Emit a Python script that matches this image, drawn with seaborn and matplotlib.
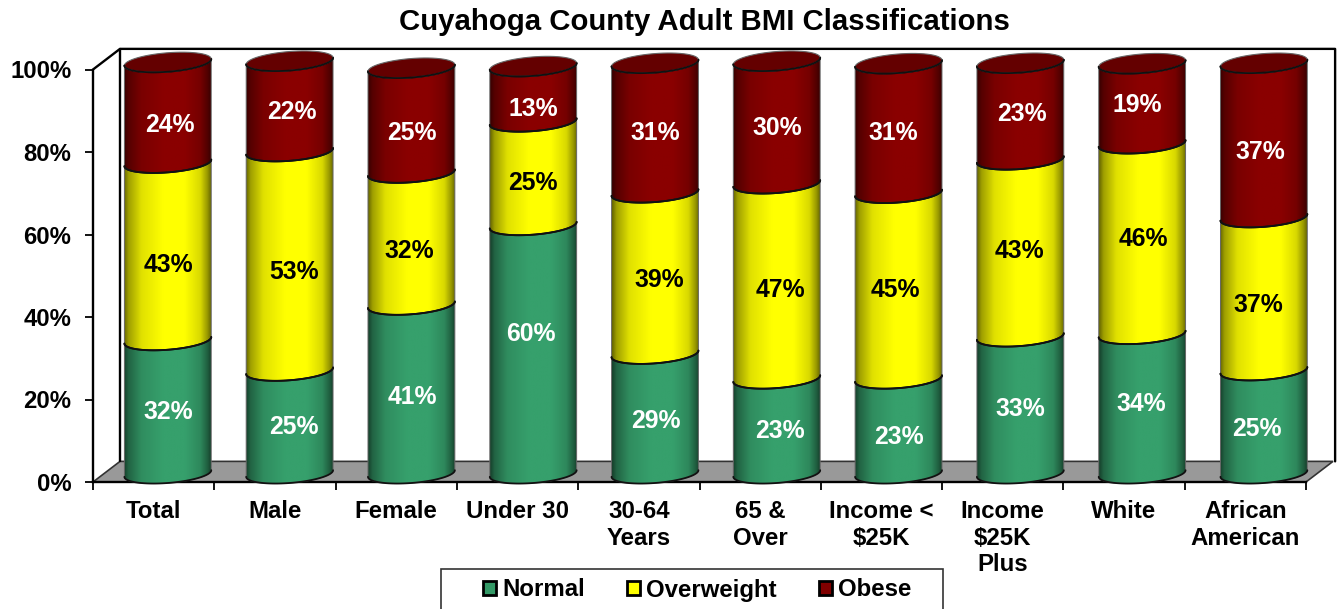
import numpy as np
import pandas as pd
import matplotlib
matplotlib.use("Agg")
import matplotlib.pyplot as plt
from matplotlib.colors import to_rgb
from matplotlib.patches import Patch, Polygon, Rectangle
import seaborn as sns

sns.set_theme(style="white")
plt.rcParams['font.family'] = ['Liberation Sans']
plt.rcParams['font.weight'] = 'bold'

# data
groups = ['Total', 'Male', 'Female', 'Under 30', '30-64\nYears', '65 &\nOver',
          'Income <\n$25K', 'Income\n$25K\nPlus', 'White', 'African\nAmerican']
normal = [32.3, 24.9, 40.9, 60.2, 29.0, 23.0, 23.0, 33.2, 33.8, 25.0]
overweight = [43.0, 53.2, 32.0, 25.1, 39.1, 47.3, 45.0, 42.9, 46.2, 37.1]
obese = [24.4, 21.9, 25.4, 13.4, 31.4, 29.7, 31.4, 23.4, 19.4, 37.4]
series_names = ['Normal', 'Overweight', 'Obese']
series_colors = ['#36a06c', '#ffff00', '#8a0000']
label_colors = ['white', 'black', 'white']
yticks = [0, 20, 40, 60, 80, 100]

# where the value labels sit in the reference, in pixels
label_px_x = [[168, 294, 412, 531, 656, 780, 899, 1020, 1141, 1257],
              [168, 294, 409, 533, 659, 780, 895, 1019, 1143, 1258],
              [170, 292, 412, 533, 655, 777, 893, 1022, 1137, 1260]]
label_px_y = [[412, 427, 397, 334, 421, 431, 437, 409, 404, 429],
              [265, 272, 251, 183, 280, 290, 290, 251, 239, 305],
              [125, 112, 133, 109, 133, 128, 133, 114, 105, 152]]

fig = plt.figure(figsize=(13.4, 6.09), dpi=100)
ax = fig.add_axes([93 / 1340, (609 - 482) / 609, 1213 / 1340, 412.5 / 609])

# fake 3d settings, in data units
depth_x, depth_y = 0.2226, 5.0
bar_dx, bar_dy = 0.117, 2.06
bar_spread = 0.004  # bars sit on a slightly wider spacing than the front ticks
bar_width = 0.716
cap_b, cap_k = 2.3, 0.8
shade = np.interp(np.linspace(0, 1, 200),
                  [0, 0.05, 0.2, 0.45, 0.7, 0.88, 0.96, 1],
                  [0.4, 0.62, 0.88, 1, 1, 0.85, 0.6, 0.42])


def arc(xc, y, start, stop):
    # part of the tilted ellipse around a bar at height y
    t = np.linspace(start, stop, 60)
    xs = xc + bar_width / 2 * np.cos(t)
    ys = y + cap_b * np.sin(t) + cap_k * np.cos(t)
    return np.column_stack([xs, ys])


def draw_segment(xc, y0, y1, color):
    # side of the cylinder between two heights, shaded left to right
    lower = arc(xc, y0, np.pi, 2 * np.pi)
    upper = arc(xc, y1, 2 * np.pi, np.pi)
    outline = np.vstack([lower, upper])
    rgb = np.array(to_rgb(color))
    img = (shade[:, None] * rgb)[None, :, :]
    im = ax.imshow(img, extent=(xc - bar_width / 2, xc + bar_width / 2, y0 - 6, y1 + 6),
                   aspect='auto', zorder=3, interpolation='bilinear')
    clip = Polygon(outline, transform=ax.transData)
    im.set_clip_path(clip)
    im.set_clip_box(fig.bbox)
    ax.add_patch(Polygon(outline, closed=True, fill=False, edgecolor='#666666',
                         linewidth=0.7, zorder=4, clip_on=False))
    ax.plot(upper[:, 0], upper[:, 1], color='#111111', lw=1.3, zorder=5, clip_on=False)
    ax.plot(lower[:, 0], lower[:, 1], color='#111111', lw=1.3, zorder=5, clip_on=False)


# flat stacked bars through seaborn, then turned into cylinders
df = pd.DataFrame({'group': groups, 'Normal': normal, 'Overweight': overweight, 'Obese': obese})
bottom = np.zeros(len(groups))
for i, name in enumerate(series_names):
    n_before = len(ax.patches)
    sns.barplot(data=df, x='group', y=name, color=series_colors[i], width=bar_width,
                bottom=bottom, errorbar=None, saturation=1, ax=ax)
    bars = ax.patches[n_before:]
    for j, bar in enumerate(bars):
        xc = bar.get_x() + bar.get_width() / 2 + bar_dx + j * bar_spread
        y0 = bar.get_y() + bar_dy
        y1 = y0 + bar.get_height()
        bar.set_visible(False)
        draw_segment(xc, y0, y1, series_colors[i])
        if i == 2:
            cap = arc(xc, y1, 0, 2 * np.pi)
            ax.add_patch(Polygon(cap, closed=True, facecolor='#640000', edgecolor='#666666',
                                 linewidth=0.8, zorder=6, clip_on=False))
            front = arc(xc, y1, np.pi, 2 * np.pi)
            ax.plot(front[:, 0], front[:, 1], color='#111111', lw=1.3, zorder=7, clip_on=False)
        lx = (label_px_x[i][j] - 93) / 121.3 - 0.5
        ly = (482 - label_px_y[i][j]) / 4.125
        ax.text(lx, ly, f'{df[name][j]:.0f}%', color=label_colors[i], ha='center', va='center',
                fontsize=17.8, fontweight='bold', zorder=8)
    bottom = bottom + np.array(df[name])

# floor and back wall lines
floor = [(-0.5, 0), (9.5, 0), (9.5 + depth_x, depth_y), (-0.5 + depth_x, depth_y)]
ax.add_patch(Polygon(floor, closed=True, facecolor='#999999', edgecolor='#333333',
                     linewidth=1.2, zorder=1, clip_on=False))
back_l, back_r = -0.5 + depth_x, 9.5 + 0.24
top = 100 + depth_y
ax.plot([-0.5, back_l, back_r, back_r], [100, top, top, depth_y], color='black', lw=1.7,
        zorder=1, clip_on=False)
ax.plot([back_l, back_l], [depth_y, top], color='black', lw=1.7, zorder=1, clip_on=False)

ax.set_xlim(-0.5, 9.5)
ax.set_ylim(0, 100)
ax.set_xlabel('')
ax.set_ylabel('')
ax.set_yticks(yticks)
ax.set_yticklabels([f'{v}%' for v in yticks], fontsize=17.2, fontweight='bold', color='black')
ax.set_xticks(range(len(groups)))
ax.set_xticklabels(groups, fontsize=17.3, fontweight='bold', color='black', linespacing=1.2)
ax.set_xticks(np.arange(-0.5, 10, 1), minor=True)
ax.tick_params(axis='x', which='major', length=0, pad=13)
ax.tick_params(axis='x', which='minor', length=5.5, width=1.3, color='black', bottom=True)
ax.tick_params(axis='y', length=5.5, width=1.3, color='black', pad=10, left=True)
for side in ['top', 'right']:
    ax.spines[side].set_visible(False)
for side in ['left', 'bottom']:
    ax.spines[side].set_color('black')
    ax.spines[side].set_linewidth(1.7)
    ax.spines[side].set_zorder(2)

fig.text(704 / 1340, 1 - 22.5 / 609, 'Cuyahoga County Adult BMI Classifications',
         ha='center', va='center', fontsize=21.2, fontweight='bold', color='black')

# legend box runs off the bottom of the picture
fig.add_artist(Rectangle((441 / 1340, -0.02), 502 / 1340, (609 - 569) / 609 + 0.02,
                         transform=fig.transFigure, facecolor='white', edgecolor='#333333',
                         linewidth=1.2))
handles = [Patch(facecolor=c, edgecolor='black', linewidth=2, label=n)
           for c, n in zip(['#339966', '#ffff00', '#800000'], series_names)]
fig.legend(handles=handles, ncol=3, frameon=False, loc='center',
           bbox_to_anchor=(697 / 1340, 1 - 590 / 609), fontsize=17.3, labelcolor='black',
           handlelength=0.55, handleheight=0.55, handletextpad=0.25, columnspacing=1.75)

fig.savefig('out.png', dpi=100)
